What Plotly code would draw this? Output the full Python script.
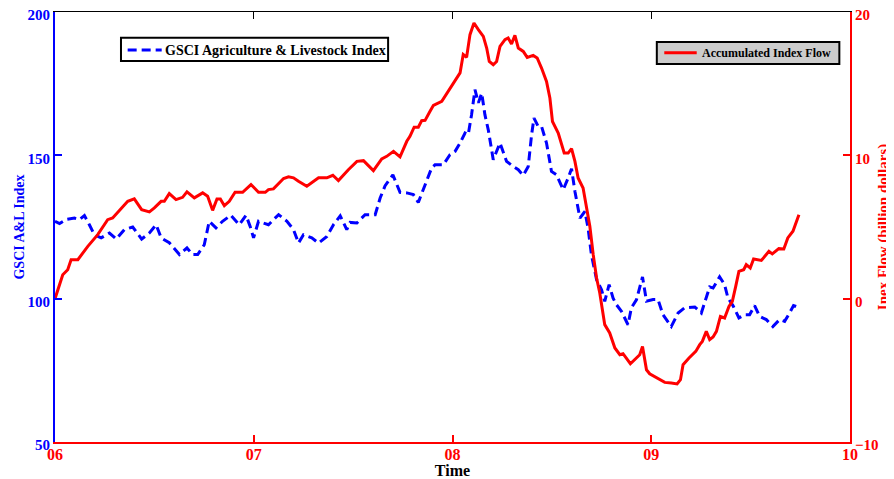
import plotly.graph_objects as go

# Accumulated index flow (billion dollars), decimal years
flow_t = [2006.000, 2006.039, 2006.064, 2006.081, 2006.115, 2006.165, 2006.215, 2006.265, 2006.290, 2006.333,
          2006.366, 2006.399, 2006.436, 2006.475, 2006.500, 2006.534, 2006.550, 2006.575, 2006.609, 2006.642,
          2006.664, 2006.701, 2006.743, 2006.768, 2006.793, 2006.815, 2006.832, 2006.852, 2006.877, 2006.906,
          2006.944, 2006.986, 2007.003, 2007.024, 2007.058, 2007.074, 2007.099, 2007.150, 2007.175, 2007.200,
          2007.225, 2007.267, 2007.326, 2007.368, 2007.398, 2007.426, 2007.476, 2007.519, 2007.552, 2007.602,
          2007.644, 2007.669, 2007.703, 2007.736, 2007.770, 2007.786, 2007.807, 2007.828, 2007.845, 2007.862,
          2007.887, 2007.904, 2007.946, 2007.962, 2007.987, 2008.021, 2008.038, 2008.054, 2008.071, 2008.088,
          2008.108, 2008.130, 2008.155, 2008.172, 2008.185, 2008.205, 2008.222, 2008.239, 2008.264, 2008.280,
          2008.297, 2008.314, 2008.331, 2008.356, 2008.376, 2008.406, 2008.426, 2008.448, 2008.473, 2008.490,
          2008.503, 2008.532, 2008.549, 2008.562, 2008.582, 2008.599, 2008.616, 2008.632, 2008.657, 2008.674,
          2008.691, 2008.708, 2008.725, 2008.741, 2008.766, 2008.791, 2008.817, 2008.842, 2008.858, 2008.895,
          2008.926, 2008.942, 2008.956, 2008.976, 2008.992, 2009.034, 2009.068, 2009.101, 2009.130, 2009.147,
          2009.160, 2009.190, 2009.224, 2009.244, 2009.257, 2009.277, 2009.294, 2009.311, 2009.328, 2009.348,
          2009.369, 2009.391, 2009.408, 2009.425, 2009.441, 2009.465, 2009.478, 2009.498, 2009.515, 2009.554,
          2009.592, 2009.609, 2009.642, 2009.667, 2009.687, 2009.713, 2009.743]
flow_v = [0.00, 1.67, 2.02, 2.72, 2.72, 3.65, 4.47, 5.51, 5.63, 6.33,
          6.79, 6.96, 6.21, 6.05, 6.33, 6.79, 6.79, 7.33, 6.91, 7.07,
          7.45, 7.03, 7.38, 7.14, 6.16, 6.96, 6.96, 6.49, 6.79, 7.42,
          7.42, 7.96, 7.73, 7.42, 7.42, 7.61, 7.66, 8.38, 8.50, 8.43,
          8.19, 7.84, 8.43, 8.43, 8.61, 8.24, 9.00, 9.58, 9.63, 8.93,
          9.75, 9.93, 10.28, 9.89, 10.98, 11.33, 11.96, 11.96, 12.42, 12.44,
          13.07, 13.49, 13.77, 14.12, 14.58, 15.40, 15.75, 17.03, 16.84, 18.42,
          19.23, 18.77, 18.30, 17.49, 16.55, 16.32, 16.55, 17.60, 18.07, 18.19,
          17.77, 18.37, 17.49, 17.25, 16.83, 16.97, 16.79, 16.09, 15.16, 14.00,
          12.36, 11.56, 10.86, 10.16, 10.16, 10.47, 9.58, 8.42, 7.72, 6.32,
          5.05, 3.07, 1.44, 0.40, -1.81, -2.39, -3.44, -3.91, -3.84, -4.54,
          -4.14, -3.91, -3.33, -4.96, -5.24, -5.54, -5.84, -5.89, -5.95, -5.65,
          -4.61, -4.14, -3.68, -3.21, -2.98, -2.28, -2.86, -2.67, -2.28, -1.24,
          -1.35, -0.54, -0.19, 0.86, 1.90, 2.02, 2.37, 2.14, 2.77, 2.67,
          3.30, 3.12, 3.49, 3.47, 4.24, 4.70, 5.86]

# GSCI Agriculture & Livestock index, decimal years
gsci_t = [2006.000, 2006.023, 2006.056, 2006.098, 2006.123, 2006.148, 2006.173, 2006.198, 2006.232, 2006.274,
          2006.308, 2006.349, 2006.391, 2006.436, 2006.475, 2006.509, 2006.534, 2006.575, 2006.626, 2006.664,
          2006.692, 2006.718, 2006.751, 2006.776, 2006.810, 2006.843, 2006.885, 2006.927, 2006.961, 2006.982,
          2006.999, 2007.024, 2007.074, 2007.125, 2007.167, 2007.200, 2007.225, 2007.250, 2007.292, 2007.326,
          2007.368, 2007.401, 2007.435, 2007.468, 2007.485, 2007.519, 2007.560, 2007.611, 2007.636, 2007.661,
          2007.700, 2007.736, 2007.770, 2007.803, 2007.828, 2007.853, 2007.895, 2007.912, 2007.954, 2007.987,
          2008.013, 2008.038, 2008.063, 2008.079, 2008.096, 2008.113, 2008.130, 2008.147, 2008.163, 2008.180,
          2008.197, 2008.205, 2008.239, 2008.255, 2008.272, 2008.306, 2008.331, 2008.356, 2008.381, 2008.398,
          2008.410, 2008.431, 2008.448, 2008.473, 2008.498, 2008.523, 2008.557, 2008.582, 2008.599, 2008.616,
          2008.641, 2008.666, 2008.682, 2008.699, 2008.725, 2008.750, 2008.766, 2008.788, 2008.808, 2008.825,
          2008.850, 2008.883, 2008.900, 2008.926, 2008.956, 2008.976, 2009.009, 2009.034, 2009.059, 2009.101,
          2009.135, 2009.168, 2009.219, 2009.252, 2009.274, 2009.294, 2009.311, 2009.344, 2009.369, 2009.386,
          2009.411, 2009.441, 2009.470, 2009.495, 2009.520, 2009.545, 2009.579, 2009.612, 2009.646, 2009.671,
          2009.696, 2009.716, 2009.743]
gsci_v = [127.0, 126.2, 127.6, 128.1, 127.6, 129.0, 125.8, 122.3, 121.2, 122.9,
          120.8, 124.1, 125.0, 120.8, 122.9, 125.8, 121.2, 119.5, 115.4, 117.7,
          115.4, 115.4, 118.8, 127.0, 124.7, 127.0, 129.1, 125.8, 129.1, 125.2,
          121.2, 127.0, 125.8, 129.3, 127.0, 124.1, 119.4, 122.3, 121.2, 119.4,
          121.7, 125.8, 128.9, 124.1, 126.6, 126.4, 129.3, 129.3, 135.1, 139.4,
          143.2, 137.1, 136.9, 136.3, 133.6, 138.0, 145.6, 146.7, 146.7, 150.2,
          151.4, 154.3, 157.8, 157.2, 164.2, 172.9, 168.3, 171.7, 164.2, 158.9,
          152.6, 148.5, 154.3, 151.4, 147.9, 146.1, 145.0, 143.0, 146.1, 157.2,
          163.0, 160.1, 160.1, 154.3, 144.4, 143.2, 138.0, 142.1, 145.3, 137.4,
          128.1, 130.4, 124.7, 115.3, 106.6, 103.1, 99.1, 104.9, 100.2, 97.9,
          95.6, 90.9, 96.8, 99.7, 107.6, 99.1, 99.7, 99.7, 94.4, 90.3,
          95.0, 96.8, 97.1, 95.0, 100.2, 104.1, 103.7, 107.6, 104.9, 100.2,
          97.6, 93.3, 94.4, 94.4, 97.6, 93.8, 92.7, 90.3, 92.7, 92.1,
          95.0, 97.6, 97.0]

x_ticks = [2006, 2007, 2008, 2009, 2010]
x_labels = ["06", "07", "08", "09", "10"]
top_ticks = [2007, 2008, 2009]
left_ticks = [50, 100, 150, 200]
right_ticks = [-10, 0, 10, 20]

gsci_name = "GSCI Agriculture & Livestock Index"
flow_name = "Accumulated Index Flow"

SERIF = "Liberation Serif"
BLUE = "#0000FF"
RED = "#FF0000"
DASH = "9px,5px"

fig = go.Figure()
fig.add_trace(go.Scatter(
    x=gsci_t, y=gsci_v, mode="lines", name=gsci_name,
    line=dict(color=BLUE, width=3, dash=DASH), yaxis="y"))
fig.add_trace(go.Scatter(
    x=flow_t, y=flow_v, mode="lines", name=flow_name,
    line=dict(color=RED, width=3), yaxis="y2"))
fig.add_trace(go.Scatter(x=[], y=[], xaxis="x2", yaxis="y", hoverinfo="skip"))

# Legend boxes drawn as shapes/annotations (paper coordinates)
shapes = [
    dict(type="rect", xref="paper", yref="paper", x0=0.083, x1=0.419, y0=0.886, y1=0.940,
         fillcolor="white", line=dict(color="black", width=2), layer="above"),
    dict(type="line", xref="paper", yref="paper", x0=0.0914, x1=0.1342, y0=0.9116, y1=0.9116,
         line=dict(color=BLUE, width=3, dash=DASH), layer="above"),
    dict(type="rect", xref="paper", yref="paper", x0=0.757, x1=0.9866, y0=0.879, y1=0.930,
         fillcolor="#CCCCCC", line=dict(color="black", width=2), layer="above"),
    dict(type="line", xref="paper", yref="paper", x0=0.7664, x1=0.8072, y0=0.9053, y1=0.9053,
         line=dict(color=RED, width=3), layer="above"),
]
annotations = [
    dict(xref="paper", yref="paper", x=0.1358, y=0.9116, xanchor="left", yanchor="middle",
         text=gsci_name, showarrow=False,
         font=dict(family=SERIF, size=14, color="black", weight="bold")),
    dict(xref="paper", yref="paper", x=0.8113, y=0.9053, xanchor="left", yanchor="middle",
         text=flow_name, showarrow=False,
         font=dict(family=SERIF, size=12, color="black", weight="bold")),
]

# The page body has an 8px margin; the figure is sized/margined so the plot area
# lands where the reference has it.
fig.update_layout(
    width=886, height=471,
    margin=dict(l=47, r=44, t=4, b=37, autoexpand=False),
    paper_bgcolor="white", plot_bgcolor="white",
    font=dict(family=SERIF, size=15, color="black"),
    showlegend=False,
    shapes=shapes, annotations=annotations,
    xaxis=dict(
        range=[2006, 2010], tickvals=x_ticks, ticktext=x_labels,
        ticks="inside", ticklen=7, tickwidth=2, tickcolor=RED,
        showline=True, linecolor=RED, linewidth=2,
        showgrid=False, zeroline=False, ticklabelstandoff=-3,
        ticklabeloverflow="allow",
        tickfont=dict(family=SERIF, size=16, color=RED, weight="bold"),
        title=dict(text="Time", font=dict(family=SERIF, size=16, color="black", weight="bold"), standoff=3),
        automargin=False),
    xaxis2=dict(
        overlaying="x", side="top", anchor="y", range=[2006, 2010], tickvals=top_ticks,
        ticks="inside", ticklen=7, tickcolor="black", tickwidth=1,
        showline=True, linecolor="black", linewidth=1,
        showticklabels=False, showgrid=False, zeroline=False),
    yaxis=dict(
        range=[50, 200], tickvals=left_ticks,
        ticks="inside", ticklen=7, tickwidth=1.5, tickcolor=BLUE,
        showline=True, linecolor=BLUE, linewidth=2,
        showgrid=False, zeroline=False, ticklabeloverflow="allow", ticklabelshift=3,
        tickfont=dict(family=SERIF, size=15, color=BLUE, weight="bold"),
        title=dict(text="GSCI A&L Index", font=dict(family=SERIF, size=14, color=BLUE, weight="bold"), standoff=0),
        automargin=False),
    yaxis2=dict(
        overlaying="y", side="right", anchor="x", range=[-10, 20], tickvals=right_ticks,
        ticks="inside", ticklen=7, tickwidth=1.5, tickcolor=RED,
        showline=True, linecolor=RED, linewidth=2,
        showgrid=False, zeroline=False, ticklabeloverflow="allow", ticklabelshift=3,
        tickfont=dict(family=SERIF, size=15, color=RED, weight="bold"),
        title=dict(text="Inex Flow (billion dollars)", font=dict(family=SERIF, size=15, color=RED, weight="bold"), standoff=0),
        automargin=False),
)

fig.write_html("out.html")
